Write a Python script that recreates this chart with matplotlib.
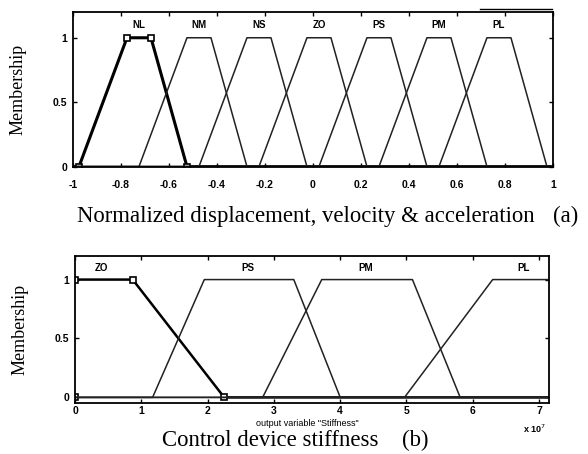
import numpy as np
import matplotlib.pyplot as plt
from matplotlib.lines import Line2D

# membership functions, top panel (normalized input)
top_names = ['NL', 'NM', 'NS', 'ZO', 'PS', 'PM', 'PL']
top_params = [
    [-0.975, -0.775, -0.675, -0.525],
    [-0.725, -0.525, -0.425, -0.275],
    [-0.475, -0.275, -0.175, -0.025],
    [-0.225, -0.025, 0.075, 0.225],
    [0.025, 0.225, 0.325, 0.475],
    [0.275, 0.475, 0.575, 0.725],
    [0.525, 0.725, 0.825, 0.975],
]
top_xticks = [-1, -0.8, -0.6, -0.4, -0.2, 0, 0.2, 0.4, 0.6, 0.8, 1]
top_xticklabels = ['-1', '-0.8', '-0.6', '-0.4', '-0.2', '0', '0.2', '0.4', '0.6', '0.8', '1']

# membership functions, bottom panel (stiffness, x 1e7)
bot_names = ['ZO', 'PS', 'PM', 'PL']
bot_params = [
    [-0.3, 0.0, 0.87, 2.25],
    [1.17, 1.95, 3.30, 4.00],
    [2.83, 3.72, 5.09, 5.81],
    [4.97, 6.30, 7.30, 7.60],
]
bot_label_x = [0.40, 2.60, 4.39, 6.76]
bot_xticks = [0, 1, 2, 3, 4, 5, 6, 7]

serif = 'Liberation Serif'
sans = 'Liberation Sans'


def trap(x, p):
    a, b, c, d = p
    y = np.zeros_like(x)
    up = (x >= a) & (x < b)
    y[up] = (x[up] - a) / (b - a)
    y[(x >= b) & (x <= c)] = 1
    dn = (x > c) & (x <= d)
    y[dn] = (d - x[dn]) / (d - c)
    return y


def style_axes(ax, xpad):
    ax.tick_params(direction='in', length=3, width=1, top=True, right=True,
                   labelsize=7.5, pad=4)
    ax.tick_params(axis='x', pad=xpad)
    for lab in ax.get_xticklabels() + ax.get_yticklabels():
        lab.set_fontfamily(sans)
        lab.set_fontweight('bold')
    for s in ax.spines.values():
        s.set_linewidth(1.3)


fig = plt.figure(figsize=(5.88, 4.54), dpi=100)

# ---- (a) ----
ax1 = fig.add_axes([0.1241, 0.6315, 0.8163, 0.3421])
xs = np.linspace(-1, 1, 2001)
for i, (name, p) in enumerate(zip(top_names, top_params)):
    ys = trap(xs, p)
    if i == 0:
        ax1.plot(xs, ys, color='black', lw=2.2)
        ax1.plot([p[0], p[1], p[2], p[3]], [0, 1, 1, 0], ls='none', marker='s',
                 ms=5, mfc='white', mec='black', mew=1.2)
    else:
        ax1.plot(xs, ys, color='#222222', lw=1.1)
    ax1.text((p[1] + p[2]) / 2, 1.1, name, ha='center', va='center',
             fontsize=7, fontweight='bold', family=sans)
ax1.set_xlim(-1, 1)
ax1.set_ylim(-0.005, 1.2)
ax1.set_xticks(top_xticks)
ax1.set_xticklabels(top_xticklabels)
ax1.set_yticks([0, 0.5, 1])
ax1.set_yticklabels(['0', '0.5', '1'])
style_axes(ax1, 9)
ax1.set_ylabel('Membership', family=serif, fontsize=13, labelpad=19)
fig.text(0.131, 0.5117, 'Normalized displacement, velocity & acceleration',
         family=serif, fontsize=16.4, ha='left', va='baseline')
fig.text(0.94, 0.5117, '(a)', family=serif, fontsize=16.4, ha='left', va='baseline')
fig.add_artist(Line2D([480 / 588, 552 / 588], [1 - 9 / 454, 1 - 9 / 454],
                      color='black', lw=1.0))

# ---- (b) ----
ax2 = fig.add_axes([0.1276, 0.1117, 0.8061, 0.3244])
xs2 = np.linspace(0, 7.15, 2001)
for i, (name, p) in enumerate(zip(bot_names, bot_params)):
    ys = trap(xs2, p)
    if i == 0:
        ax2.plot(xs2, ys, color='black', lw=1.8)
        ax2.plot([0, 0, p[2], p[3]], [0, 1, 1, 0], ls='none', marker='s',
                 ms=5, mfc='white', mec='black', mew=1.2)
    else:
        ax2.plot(xs2, ys, color='#222222', lw=1.1)
    ax2.text(bot_label_x[i], 1.1, name, ha='center', va='center',
             fontsize=7, fontweight='bold', family=sans)
ax2.set_xlim(0, 7.15)
ax2.set_ylim(-0.05, 1.2)
ax2.set_xticks(bot_xticks)
ax2.set_xticklabels([str(t) for t in bot_xticks])
ax2.set_yticks([0, 0.5, 1])
ax2.set_yticklabels(['0', '0.5', '1'])
style_axes(ax2, 2)
ax2.set_ylabel('Membership', family=serif, fontsize=13, labelpad=19)
ax2.text(0.49, -0.135, 'output variable "Stiffness"', transform=ax2.transAxes,
         ha='center', va='center', fontsize=6.5, family=sans)
ax2.text(0.97, -0.17, r'x 10$^7$', transform=ax2.transAxes,
         ha='center', va='center', fontsize=6.5, family=sans, fontweight='bold')
fig.text(0.275, 0.018, 'Control device stiffness', family=serif, fontsize=16.4,
         ha='left', va='baseline')
fig.text(0.683, 0.018, '(b)', family=serif, fontsize=16.4, ha='left', va='baseline')

fig.savefig('out.png', dpi=100)
